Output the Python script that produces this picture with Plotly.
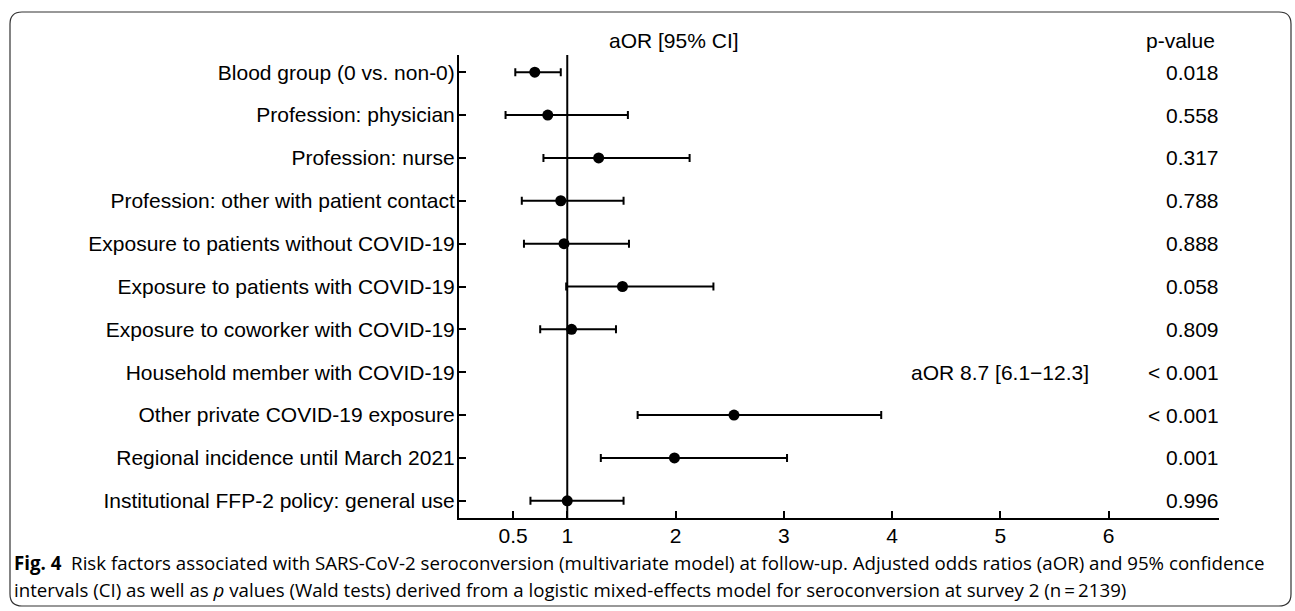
import plotly.graph_objects as go

# ---- data ----
factors = [
    "Blood group (0 vs. non-0)",
    "Profession: physician",
    "Profession: nurse",
    "Profession: other with patient contact",
    "Exposure to patients without COVID-19",
    "Exposure to patients with COVID-19",
    "Exposure to coworker with COVID-19",
    "Household member with COVID-19",
    "Other private COVID-19 exposure",
    "Regional incidence until March 2021",
    "Institutional FFP-2 policy: general use",
]
aor = [0.70, 0.82, 1.29, 0.94, 0.97, 1.51, 1.04, None, 2.54, 1.99, 1.00]
ci_low = [0.52, 0.43, 0.78, 0.58, 0.60, 0.99, 0.75, None, 1.65, 1.31, 0.66]
ci_high = [0.94, 1.56, 2.13, 1.52, 1.57, 2.35, 1.45, None, 3.90, 3.03, 1.52]
p_values = ["0.018", "0.558", "0.317", "0.788", "0.888", "0.058", "0.809",
            "< 0.001", "< 0.001", "0.001", "0.996"]
offscale_label = "aOR 8.7 [6.1\u221212.3]"
offscale_row = "Household member with COVID-19"
offscale_x = 5.0
x_ticks = [0.5, 1, 2, 3, 4, 5, 6]
x_ticktext = ["0.5", "1", "2", "3", "4", "5", "6"]
caption_lines = [
    "<b>Fig. 4</b>  Risk factors associated with SARS-CoV-2 seroconversion (multivariate model) at follow-up. "
    "Adjusted odds ratios (aOR) and 95% confidence",
    "intervals (CI) as well as <i>p</i> values (Wald tests) derived from a logistic mixed-effects model "
    "for seroconversion at survey 2 (n\u2009=\u20092139)",
]

W, H = 1295, 611
FONT = "Liberation Sans, Arial, sans-serif"
FS = 21

def px(x):
    return x / W

def py(y):
    return 1 - y / H

err_plus = [None if a is None else h - a for a, h in zip(aor, ci_high)]
err_minus = [None if a is None else a - l for a, l in zip(aor, ci_low)]

fig = go.Figure()
fig.add_trace(go.Scatter(
    x=aor, y=factors, mode="markers",
    marker=dict(color="black", size=11),
    error_x=dict(type="data", symmetric=False, array=err_plus, arrayminus=err_minus,
                 color="black", thickness=2, width=4),
    showlegend=False, hoverinfo="skip",
))

fig.update_layout(
    width=W, height=H,
    margin=dict(l=0, r=0, t=0, b=0),
    paper_bgcolor="white", plot_bgcolor="white",
    font=dict(family=FONT, size=FS, color="black"),
    xaxis=dict(
        domain=[px(459), px(1219)], range=[0, 7.02],
        tickvals=x_ticks, ticktext=x_ticktext,
        ticks="inside", ticklen=7, tickwidth=2, tickcolor="black",
        showline=True, linewidth=2, linecolor="black",
        showgrid=False, zeroline=False,
        tickfont=dict(family=FONT, size=FS, color="black"),
        ticklabelstandoff=-2,
    ),
    yaxis=dict(
        domain=[1 - 518 / H, 1 - 55 / H],
        categoryorder="array", categoryarray=factors,
        range=[10.4, -0.4],
        ticks="inside", ticklen=7, tickwidth=2, tickcolor="black",
        showline=True, linewidth=2, linecolor="black",
        showgrid=False, zeroline=False,
        tickfont=dict(family=FONT, size=FS, color="black"),
        ticklabelstandoff=-2,
    ),
)

# reference line at aOR = 1
fig.add_shape(type="line", xref="x", yref="y domain", x0=1, x1=1, y0=0, y1=1,
              line=dict(color="black", width=2), layer="below")

# headers
fig.add_annotation(text="aOR [95% CI]", xref="paper", yref="paper", x=px(674), y=py(40),
                   showarrow=False, xanchor="center", yanchor="middle",
                   font=dict(family=FONT, size=FS, color="black"))
fig.add_annotation(text="p-value", xref="paper", yref="paper", x=px(1180), y=py(40),
                   showarrow=False, xanchor="center", yanchor="middle",
                   font=dict(family=FONT, size=FS, color="black"))

# p-values
for f, p in zip(factors, p_values):
    fig.add_annotation(text=p, xref="paper", yref="y", x=px(1221), y=f,
                       showarrow=False, xanchor="right", yanchor="middle",
                       font=dict(family=FONT, size=FS, color="black"))

fig.add_annotation(text=offscale_label, xref="x", yref="y", x=offscale_x, y=offscale_row,
                   showarrow=False, xanchor="center", yanchor="middle",
                   font=dict(family=FONT, size=FS, color="black"))

# caption
for i, line in enumerate(caption_lines):
    fig.add_annotation(text=line, xref="paper", yref="paper", x=px(12), y=py(562 + 27 * i),
                       showarrow=False, xanchor="left", yanchor="middle", align="left",
                       font=dict(family="Open Sans, sans-serif", size=18.7, color="black"))

# rounded frame
x0, x1, y0, y1, r = 10, 1291, 12, 606, 12
path = (f"M {px(x0+r)},{py(y0)} L {px(x1-r)},{py(y0)} Q {px(x1)},{py(y0)} {px(x1)},{py(y0+r)} "
        f"L {px(x1)},{py(y1-r)} Q {px(x1)},{py(y1)} {px(x1-r)},{py(y1)} "
        f"L {px(x0+r)},{py(y1)} Q {px(x0)},{py(y1)} {px(x0)},{py(y1-r)} "
        f"L {px(x0)},{py(y0+r)} Q {px(x0)},{py(y0)} {px(x0+r)},{py(y0)} Z")
fig.add_shape(type="path", xref="paper", yref="paper", path=path,
              line=dict(color="#333333", width=1.2))

fig.write_html("out.html", config={"displayModeBar": False},
               post_script="document.body.style.margin='0';")
